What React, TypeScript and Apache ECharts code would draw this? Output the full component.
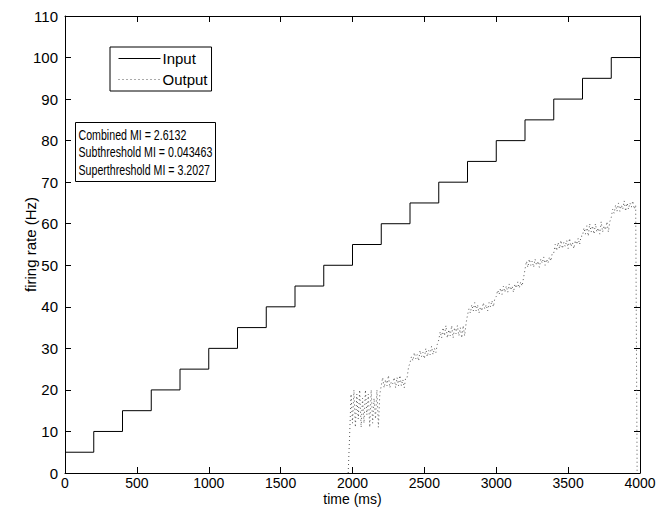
import React, { useEffect, useRef } from "react";
import * as echarts from "echarts";

// Input: step levels (Hz) and the time (ms) at which each level starts
const inputStepTimes = [0, 200, 400, 600, 800, 1000, 1200, 1400, 1600, 1800, 2000, 2200, 2400, 2600, 2800, 3000, 3200, 3400, 3600, 3800];
const inputLevels = [5, 10, 15, 20, 25, 30, 35, 40, 45, 50, 55, 60, 65, 70, 75, 80, 85, 90, 95, 100];
const inputEndTime = 4000;

// Output: firing rate sampled every 10 ms starting at 1970 ms
const outputStartTime = 1970;
const outputSampleMs = 10;
const outputValues = [
  0, 9, 19,
  12, 20, 11, 19, 13, 20, 11, 18, 12, 20, 14, 19, 11, 20, 12, 18, 13, 20, 11, 19,
  21, 23, 20.5, 22.5, 21, 23.5, 20.5, 22, 21.5, 23, 20.5, 23, 21, 23.5, 21, 22.5, 20.5, 23, 23, 25.5,
  26.5, 28, 27, 29, 27.5, 28.5, 27, 29.5, 28, 29, 27.5, 30, 28, 29.5, 28.5, 30.5, 28.5, 30, 29, 31,
  32, 34, 32.5, 35, 33, 35.5, 32.5, 34.5, 33, 35.5, 32.5, 35, 33.5, 35.5, 33, 35, 32.5, 35.5, 33, 36,
  38, 39.5, 38.5, 40.5, 39, 41, 39, 40.5, 38.5, 40, 39, 41, 39.5, 40.5, 39, 41, 40, 41.5, 40, 42,
  42.5, 44, 43, 44.5, 43, 45, 43.5, 45, 43.5, 45.5, 44, 45, 43.5, 45.5, 44.5, 46, 44.5, 46, 45, 47,
  49, 51, 49.5, 51.5, 50, 51, 49.5, 51.5, 50, 51, 49.5, 51.5, 50.5, 52, 50, 51.5, 50.5, 52, 51, 53,
  53, 55, 53.5, 55.5, 54, 56, 54, 55.5, 54.5, 56, 54, 56.5, 54.5, 55.5, 54, 56, 55, 56.5, 55, 57,
  57, 59, 57.5, 59.5, 57, 60, 58, 59.5, 57.5, 60, 58, 59, 57.5, 60.5, 58, 59.5, 58.5, 60.5, 58, 60.5,
  61.5, 63.5, 62.5, 64.5, 63, 65, 63, 64.5, 63.5, 65.5, 63, 65, 63.5, 65, 64, 65.5, 63.5, 64.5, 0,
];

const xTicks = { min: 0, max: 4000, interval: 500 };
const yTicks = { min: 0, max: 110, interval: 10 };

const miLines = [
  "Combined MI = 2.6132",
  "Subthreshold MI = 0.043463",
  "Superthreshold MI = 3.2027",
];

const FONT = "'Liberation Sans', Arial, Helvetica, sans-serif";

export default function App() {
  const ref = useRef<HTMLDivElement>(null);

  useEffect(() => {
    document.body.style.margin = "0";
    if (!ref.current) return;
    const chart = echarts.init(ref.current, undefined, { renderer: "svg" });

    const inputData: [number, number][] = inputStepTimes.map((t, i) => [t, inputLevels[i]]);
    inputData.push([inputEndTime, inputLevels[inputLevels.length - 1]]);
    const outputData: [number, number][] = outputValues.map((v, i) => [outputStartTime + i * outputSampleMs, v]);

    const axisLine = { show: true, onZero: false, lineStyle: { color: "#000", width: 1 } };
    const label = { color: "#000", fontSize: 15, fontFamily: FONT, formatter: (v: number) => String(v) };
    const innerTick = { show: true, inside: true, length: 6, lineStyle: { color: "#000", width: 1 } };

    chart.setOption({
      animation: false,
      backgroundColor: "#fff",
      textStyle: { fontFamily: FONT },
      grid: { left: 65, right: 31, top: 16, bottom: 34, containLabel: false, outerBoundsMode: "none" },
      graphic: [
        {
          type: "group",
          left: 75,
          top: 122,
          children: [
            {
              type: "rect",
              shape: { x: 0, y: 0, width: 140, height: 59 },
              style: { fill: "#fff", stroke: "#000", lineWidth: 1 },
            },
            {
              type: "text",
              x: 3,
              y: 4,
              scaleX: 0.76,
              style: {
                text: miLines.join("\n"),
                fontSize: 14,
                fontFamily: FONT,
                lineHeight: 17.5,
                fill: "#000",
              },
            },
          ],
        },
      ],
      legend: {
        orient: "vertical",
        left: 110,
        top: 47,
        borderColor: "#000",
        borderWidth: 1,
        padding: [4, 4, 4, 8],
        itemGap: 6,
        itemWidth: 42,
        itemHeight: 14,
        itemStyle: { opacity: 0 },
        lineStyle: { width: 1 },
        textStyle: { fontSize: 15, color: "#000", fontFamily: FONT, padding: [0, 0, 0, -3] },
        data: ["Input", "Output"],
      },
      xAxis: [
        {
          type: "value",
          min: xTicks.min,
          max: xTicks.max,
          interval: xTicks.interval,
          name: "time (ms)",
          nameLocation: "middle",
          nameGap: 19,
          nameMoveOverlap: false,
          nameTextStyle: { color: "#000", fontSize: 14, fontFamily: FONT },
          axisLine,
          axisTick: innerTick,
          axisLabel: { ...label, fontSize: 14, margin: 3 },
          splitLine: { show: false },
        },
        {
          type: "value",
          position: "top",
          min: xTicks.min,
          max: xTicks.max,
          interval: xTicks.interval,
          axisLine,
          axisTick: innerTick,
          axisLabel: { show: false },
          splitLine: { show: false },
        },
      ],
      yAxis: [
        {
          type: "value",
          min: yTicks.min,
          max: yTicks.max,
          interval: yTicks.interval,
          name: "firing rate (Hz)",
          nameLocation: "middle",
          nameGap: 27,
          nameMoveOverlap: false,
          nameTextStyle: { color: "#000", fontSize: 15, fontFamily: FONT },
          axisLine,
          axisTick: innerTick,
          axisLabel: { ...label, margin: 7 },
          splitLine: { show: false },
        },
        {
          type: "value",
          position: "right",
          min: yTicks.min,
          max: yTicks.max,
          interval: yTicks.interval,
          axisLine,
          axisTick: innerTick,
          axisLabel: { show: false },
          splitLine: { show: false },
        },
      ],
      series: [
        {
          name: "Input",
          type: "line",
          step: "end",
          data: inputData,
          showSymbol: false,
          symbol: "none",
          lineStyle: { color: "#000", width: 1 },
          itemStyle: { color: "#000" },
        },
        {
          name: "Output",
          type: "line",
          data: outputData,
          showSymbol: false,
          symbol: "none",
          lineStyle: { color: "#555", width: 1, type: [1, 3] },
          itemStyle: { color: "#555" },
        },
      ],
    });

    return () => chart.dispose();
  }, []);

  return <div ref={ref} style={{ width: 671, height: 507 }} />;
}
